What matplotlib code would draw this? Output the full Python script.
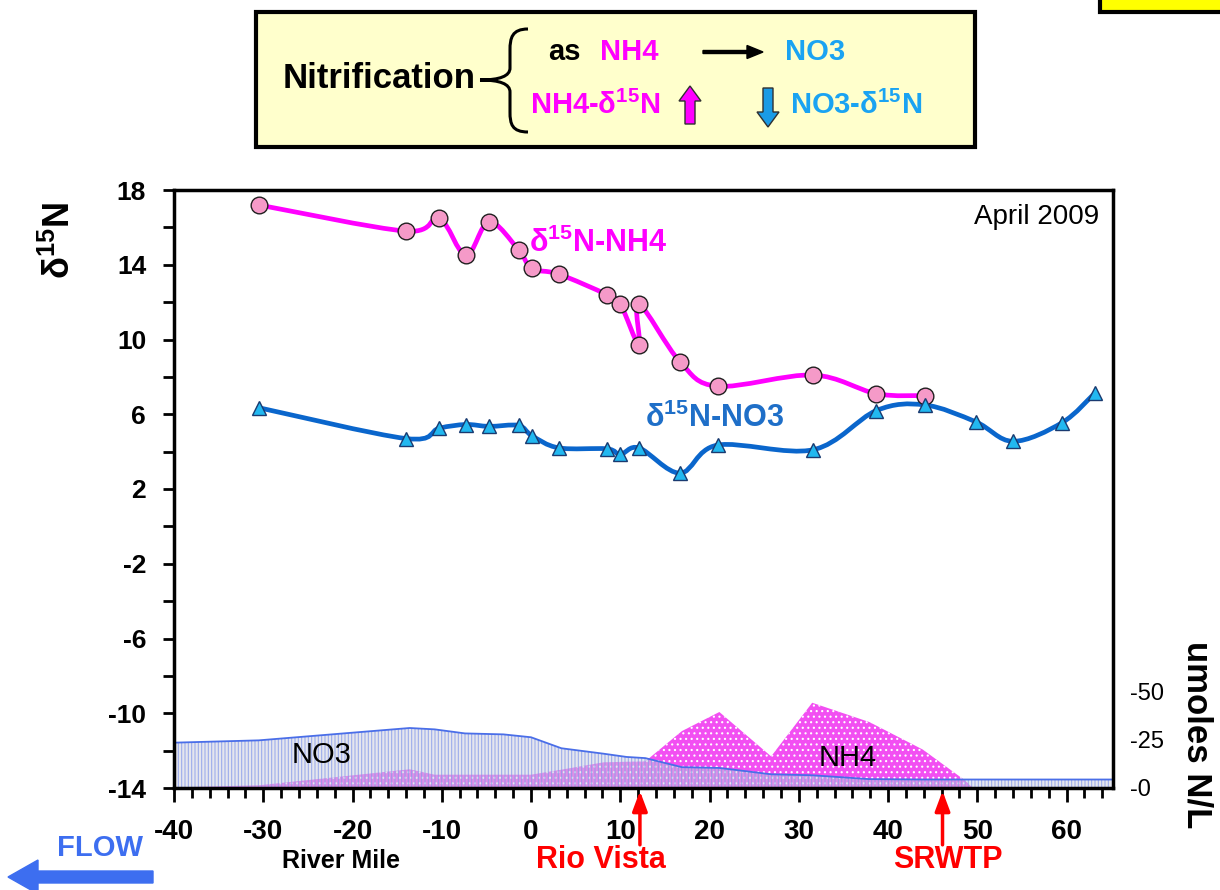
import numpy as np
import matplotlib
matplotlib.use("Agg")
import matplotlib.pyplot as plt
from matplotlib.path import Path
from matplotlib.patches import PathPatch, Rectangle, FancyArrow
from matplotlib.transforms import Affine2D

plt.rcParams['font.family'] = ['Liberation Sans', 'DejaVu Sans']
plt.rcParams['mathtext.fontset'] = 'custom'
plt.rcParams['mathtext.rm'] = 'Liberation Sans'
plt.rcParams['mathtext.bf'] = 'Liberation Sans:bold'
plt.rcParams['mathtext.it'] = 'Liberation Sans:italic'
plt.rcParams['hatch.linewidth'] = 0.8

# --- delta 15N of NH4 and NO3 along the river (river mile) ---
nh4_mile = [-30.5, -14.0, -10.3, -7.3, -4.7, -1.4, 0.1, 3.1, 8.5, 10.0,
            12.1, 12.1, 16.7, 20.9, 31.6, 38.7, 44.1]
nh4_d15n = [17.2, 15.8, 16.5, 14.5, 16.3, 14.8, 13.8, 13.5, 12.4, 11.9,
            9.7, 11.9, 8.8, 7.5, 8.1, 7.1, 7.0]

no3_mile = [-30.5, -14.0, -10.3, -7.3, -4.7, -1.4, 0.1, 3.1, 8.5, 10.0,
            12.1, 16.7, 20.9, 31.6, 38.7, 44.1, 49.8, 54.0, 59.5, 63.2]
no3_d15n = [6.35, 4.7, 5.25, 5.45, 5.35, 5.4, 4.85, 4.2, 4.15, 3.85,
            4.2, 2.85, 4.35, 4.1, 6.2, 6.5, 5.6, 4.55, 5.55, 7.15]

# --- concentrations (umoles N/L) ---
conc_mile = [-40.0, -30.5, -13.6, -10.8, -7.4, -3.1, 0.0, 3.4, 8.1, 10.7,
             12.8, 16.9, 21.1, 26.9, 31.5, 37.9, 43.9, 48.6, 49.5, 65.0]
no3_conc = [23.5, 24.7, 31.1, 30.4, 28.3, 27.8, 26.3, 20.6, 17.8, 16.1,
            15.5, 10.8, 10.4, 7.1, 6.6, 4.6, 4.4, 4.4, 4.4, 4.4]
nh4_conc = [0.3, 1.4, 9.7, 6.9, 6.9, 6.9, 6.9, 9.5, 13.3, 13.6,
            13.8, 29.5, 39.4, 16.4, 44.2, 34.2, 19.9, 4.0, 0.0, 0.0]

x_ticks = [-40, -30, -20, -10, 0, 10, 20, 30, 40, 50, 60]
y_ticks = [-14, -10, -6, -2, 2, 6, 10, 14, 18]
conc_ticks = [0, 25, 50]
conc_tick_labels = ['-0', '-25', '-50']
sites = {'Rio Vista': 12.2, 'SRWTP': 46.1}

MAGENTA = '#ff00ff'
NO3_LINE = '#0a66cc'
NO3_TEXT = '#1f6fc8'
SKY = '#1aa3f2'
RED = '#ff0000'

W, H = 1220, 890
fig = plt.figure(figsize=(W / 100, H / 100), dpi=100)
# pixel coordinates on the canvas, origin at top-left
px = Affine2D().scale(1 / W, -1 / H).translate(0, 1) + fig.transFigure

L, R, T, B = 174, 1113, 190, 788
ax = fig.add_axes([L / W, 1 - B / H, (R - L) / W, (B - T) / H])
ax2 = ax.twinx()
ax.set_zorder(ax2.get_zorder() + 1)
ax.patch.set_visible(False)


def smooth_path(x, y):
    """Piecewise cubic Bezier through the points (Catmull-Rom style)."""
    pts = np.column_stack([x, y]).astype(float)
    n = len(pts)
    verts = [pts[0]]
    codes = [Path.MOVETO]
    for i in range(n - 1):
        p0 = pts[i - 1] if i > 0 else pts[i]
        p1, p2 = pts[i], pts[i + 1]
        p3 = pts[i + 2] if i + 2 < n else pts[i + 1]
        verts += [p1 + (p2 - p0) / 6, p2 - (p3 - p1) / 6, p2]
        codes += [Path.CURVE4] * 3
    return Path(verts, codes)


# concentration areas on the secondary axis
ax2.fill_between(conc_mile, 0, nh4_conc, facecolor='#f24ff2',
                 edgecolor='white', hatch='...', linewidth=0, zorder=1)
ax2.fill_between(conc_mile, 0, no3_conc, facecolor=(0.80, 0.81, 0.87, 0.5),
                 edgecolor=(0.52, 0.60, 0.92, 0.75), hatch='|||||',
                 linewidth=0, zorder=2)
ax2.plot(conc_mile, no3_conc, color='#4a6ee8', lw=1.3, zorder=3)
ax2.set_ylim(0, 310)
ax2.set_yticks(conc_ticks)
ax2.set_yticklabels(conc_tick_labels)
ax2.tick_params(axis='y', length=0, pad=12, labelsize=17)
for s in ax2.spines.values():
    s.set_visible(False)

# isotope lines
ax.add_patch(PathPatch(smooth_path(nh4_mile, nh4_d15n), fill=False,
                       edgecolor=MAGENTA, lw=3.4, capstyle='round',
                       joinstyle='round', zorder=3))
ax.add_patch(PathPatch(smooth_path(no3_mile, no3_d15n), fill=False,
                       edgecolor=NO3_LINE, lw=3.4, capstyle='round',
                       joinstyle='round', zorder=3))
ax.plot(nh4_mile, nh4_d15n, ls='none', marker='o', ms=12,
        mfc='#f59ac8', mec='#202020', mew=1, zorder=4)
ax.plot(no3_mile, no3_d15n, ls='none', marker='^', ms=10,
        mfc='#22b8f0', mec='#1a3a70', mew=1, zorder=4)

ax.set_xlim(-40, 65.2)
ax.set_ylim(-14, 18)
ax.set_xticks(x_ticks)
ax.set_xticks(np.arange(-40, 66, 2), minor=True)
ax.set_yticks(y_ticks)
ax.set_yticks(np.arange(-14, 19, 2), minor=True)
ax.set_xticklabels([str(v) for v in x_ticks])
ax.set_yticklabels([str(v) for v in y_ticks])
ax.tick_params(axis='both', which='both', direction='out', width=2,
               color='black')
ax.tick_params(axis='x', which='major', length=10, pad=12, labelsize=20)
ax.tick_params(axis='x', which='minor', length=7)
ax.tick_params(axis='y', which='major', length=8, pad=12, labelsize=19)
ax.tick_params(axis='y', which='minor', length=8)
for lab in ax.get_xticklabels() + ax.get_yticklabels():
    lab.set_fontweight('bold')
for s in ax.spines.values():
    s.set_linewidth(2.5)

ax.text(0.985, 0.955, 'April 2009', transform=ax.transAxes, ha='right',
        va='center', fontsize=20)
fig.text(598, 243, r'δ$^{\mathbf{15}}$N-NH4', transform=px, ha='center',
         va='center', fontsize=22, fontweight='bold', color=MAGENTA)
fig.text(715, 418, r'δ$^{\mathbf{15}}$N-NO3', transform=px, ha='center',
         va='center', fontsize=22, fontweight='bold', color=NO3_TEXT)
fig.text(322, 755, 'NO3', transform=px, ha='center', va='center',
         fontsize=21)
fig.text(848, 758, 'NH4', transform=px, ha='center', va='center',
         fontsize=21)

# axis titles
fig.text(60, 240, r'δ$^{\mathbf{15}}$N', transform=px, rotation=90,
         ha='center', va='center', fontsize=26, fontweight='bold')
fig.text(1197, 735, 'umoles N/L', transform=px, rotation=-90,
         ha='center', va='center', fontsize=25, fontweight='bold')
fig.text(341, 861, 'River Mile', transform=px, ha='center', va='center',
         fontsize=18, fontweight='bold')

# site markers under the x axis
label_x = {'Rio Vista': 601, 'SRWTP': 948}
for name, mile in sites.items():
    ax.annotate('', xy=(mile, -0.005), xycoords=('data', 'axes fraction'),
                xytext=(mile, -0.095), textcoords=('data', 'axes fraction'),
                arrowprops=dict(arrowstyle='-|>,head_length=1.2,head_width=0.45',
                                color=RED, lw=2.5, shrinkA=0, shrinkB=0),
                annotation_clip=False)
    fig.text(label_x[name], 860, name, transform=px, ha='center',
             va='center', fontsize=22, fontweight='bold', color=RED)

# flow direction
fig.text(100, 848, 'FLOW', transform=px, ha='center', va='center',
         fontsize=21, fontweight='bold', color='#3d6ef0')
fig.patches.append(FancyArrow(153, 877, -145, 0, width=12, head_width=34,
                              head_length=30, length_includes_head=True,
                              color='#3d6ef0', transform=px, figure=fig))

# summary box at the top
fig.patches.append(Rectangle((256, 12), 719, 135, facecolor='#ffffcc',
                             edgecolor='black', lw=3, transform=px,
                             figure=fig))
fig.patches.append(Rectangle((1100, -10), 130, 22, facecolor='#ffff00',
                             edgecolor='black', lw=3, transform=px,
                             figure=fig))
fig.text(283, 78, 'Nitrification', transform=px, ha='left', va='center',
         fontsize=25, fontweight='bold')
brace = Path([(528, 29), (512, 29), (510, 38), (510, 50),
              (510, 68),
              (510, 76), (500, 80), (480, 80),
              (500, 80), (510, 84), (510, 92),
              (510, 112),
              (510, 124), (512, 132), (528, 132)],
             [Path.MOVETO, Path.CURVE4, Path.CURVE4, Path.CURVE4,
              Path.LINETO,
              Path.CURVE4, Path.CURVE4, Path.CURVE4,
              Path.CURVE4, Path.CURVE4, Path.CURVE4,
              Path.LINETO,
              Path.CURVE4, Path.CURVE4, Path.CURVE4])
fig.patches.append(PathPatch(brace, fill=False, edgecolor='black', lw=2.2,
                             transform=px, figure=fig))
fig.text(548, 52, 'as', transform=px, ha='left', va='center', fontsize=21,
         fontweight='bold')
fig.text(600, 52, 'NH4', transform=px, ha='left', va='center', fontsize=21,
         fontweight='bold', color=MAGENTA)
fig.text(785, 52, 'NO3', transform=px, ha='left', va='center', fontsize=21,
         fontweight='bold', color=SKY)
fig.patches.append(FancyArrow(703, 52, 60, 0, width=3, head_width=13,
                              head_length=16, length_includes_head=True,
                              color='black', transform=px, figure=fig))
fig.text(530, 105, r'NH4-δ$^{\mathbf{15}}$N', transform=px, ha='left',
         va='center', fontsize=21, fontweight='bold', color=MAGENTA)
fig.text(790, 105, r'NO3-δ$^{\mathbf{15}}$N', transform=px, ha='left',
         va='center', fontsize=21, fontweight='bold', color=SKY)
fig.patches.append(FancyArrow(690, 124, 0, -38, width=10, head_width=22,
                              head_length=15, length_includes_head=True,
                              facecolor=MAGENTA, edgecolor='#303030', lw=1,
                              transform=px, figure=fig))
fig.patches.append(FancyArrow(768, 88, 0, 39, width=10, head_width=22,
                              head_length=15, length_includes_head=True,
                              facecolor='#1a9be6', edgecolor='#303030', lw=1,
                              transform=px, figure=fig))

fig.savefig('out.png', dpi=100)
